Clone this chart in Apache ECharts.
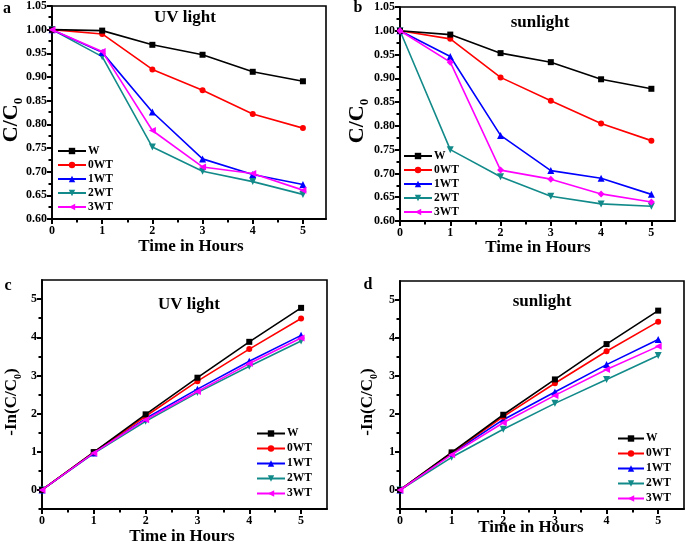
<!DOCTYPE html>
<html><head><meta charset="utf-8">
<script src="https://cdn.jsdelivr.net/npm/echarts@6/dist/echarts.min.js"></script>
<style>html,body{margin:0;padding:0;background:#fff}#c{width:685px;height:547px}</style>
</head><body><div id="c"></div>
<script>
// ---- data ----
const hours = [0, 1, 2, 3, 4, 5];
const seriesNames = ['W', '0WT', '1WT', '2WT', '3WT'];

// panel a: C/C0 under UV light
const aW   = [1.00, 0.998, 0.968, 0.947, 0.911, 0.891];
const a0WT = [1.00, 0.991, 0.916, 0.872, 0.822, 0.792];
const a1WT = [1.00, 0.952, 0.826, 0.727, 0.694, 0.673];
const a2WT = [1.00, 0.943, 0.752, 0.701, 0.679, 0.652];
const a3WT = [1.00, 0.954, 0.787, 0.710, 0.696, 0.661];

// panel b: C/C0 under sunlight
const bW   = [1.00, 0.992, 0.953, 0.934, 0.898, 0.878];
const b0WT = [1.00, 0.983, 0.902, 0.853, 0.805, 0.769];
const b1WT = [1.00, 0.946, 0.780, 0.706, 0.690, 0.656];
const b2WT = [1.00, 0.750, 0.693, 0.652, 0.636, 0.631];
const b3WT = [1.00, 0.934, 0.707, 0.688, 0.657, 0.640];

// panel c: -ln(C/C0) under UV light
const cW   = [0, 0.99, 1.98, 2.94, 3.88, 4.77];
const c0WT = [0, 0.99, 1.93, 2.85, 3.69, 4.49];
const c1WT = [0, 0.97, 1.87, 2.64, 3.37, 4.05];
const c2WT = [0, 0.96, 1.80, 2.55, 3.24, 3.90];
const c3WT = [0, 0.97, 1.84, 2.58, 3.31, 3.98];

// panel d: -ln(C/C0) under sunlight
const dW   = [0, 0.99, 1.98, 2.91, 3.84, 4.72];
const d0WT = [0, 0.98, 1.93, 2.81, 3.65, 4.43];
const d1WT = [0, 0.96, 1.85, 2.58, 3.30, 3.96];
const d2WT = [0, 0.86, 1.60, 2.28, 2.91, 3.54];
const d3WT = [0, 0.93, 1.77, 2.49, 3.17, 3.78];

// tick labels
const xTicks = [0, 1, 2, 3, 4, 5];
const xMinorTicks = [0.5, 1.5, 2.5, 3.5, 4.5];
const ratioTicks = [0.60, 0.65, 0.70, 0.75, 0.80, 0.85, 0.90, 0.95, 1.00, 1.05];
const ratioMinorTicks = [0.625, 0.675, 0.725, 0.775, 0.825, 0.875, 0.925, 0.975, 1.025];
const lnTicks = [0, 1, 2, 3, 4, 5];
const lnMinorTicks = [-0.5, 0.5, 1.5, 2.5, 3.5, 4.5];

// ---- styling ----
const FONT = '"Liberation Serif","Times New Roman",serif';
const colors = ['#000000', '#ff0000', '#0000ff', '#138a8a', '#ff00ff'];
const triDown = 'path://M0,0 L10,0 L5,9 Z';
const triLeft = 'path://M0,5 L9,0 L9,10 Z';

const panels = [
  {grid:{left:52, top:5, width:274, height:214}, xmax:5.46, ymin:0.6, ymax:1.05,
   major:ratioTicks, minor:ratioMinorTicks, fmt:v=>v.toFixed(2),
   data:[aW,a0WT,a1WT,a2WT,a3WT], syms:['rect','circle','triangle',triDown,triLeft],
   legend:{left:57, top:144, itemWidth:28}},
  {grid:{left:400, top:7, width:275, height:214}, xmax:5.47, ymin:0.6, ymax:1.05,
   major:ratioTicks, minor:ratioMinorTicks, fmt:v=>v.toFixed(2),
   data:[bW,b0WT,b1WT,b2WT,b3WT], syms:['rect','circle','triangle',triDown,'diamond'],
   legend:{left:403, top:149, itemWidth:28}},
  {grid:{left:42, top:280, width:285, height:229}, xmax:5.5, ymin:-0.5, ymax:5.5,
   major:lnTicks, minor:lnMinorTicks, fmt:v=>String(v),
   data:[cW,c0WT,c1WT,c2WT,c3WT], syms:['rect','circle','triangle',triDown,triLeft],
   legend:{left:256, top:426, itemWidth:28, gap:15}},
  {grid:{left:400, top:281, width:284, height:228}, xmax:5.5, ymin:-0.5, ymax:5.5,
   major:lnTicks, minor:lnMinorTicks, fmt:v=>String(v),
   data:[dW,d0WT,d1WT,d2WT,d3WT], syms:['rect','circle','triangle',triDown,triLeft],
   legend:{left:617, top:431, itemWidth:26, gap:15}}
];

const grids = [], xAxes = [], yAxes = [], series = [], legends = [];
const labelStyle = {fontFamily:FONT, fontWeight:'bold', fontSize:12, color:'#000'};
panels.forEach((p) => {
  grids.push(Object.assign({show:true, borderColor:'#000', borderWidth:1.6, backgroundColor:'transparent'}, p.grid));
});
// overlay grids used only for minor ticks
panels.forEach((p) => {
  grids.push(Object.assign({show:false}, p.grid));
});
// major axes
panels.forEach((p, i) => {
  xAxes.push({type:'value', gridIndex:i, min:0, max:p.xmax,
    axisLine:{show:true, onZero:false, lineStyle:{color:'#000', width:1.8}},
    axisTick:{show:true, length:5, customValues:xTicks, lineStyle:{color:'#000', width:2}},
    axisLabel:Object.assign({customValues:xTicks, margin:6}, labelStyle),
    splitLine:{show:false}});
  yAxes.push({type:'value', gridIndex:i, min:p.ymin, max:p.ymax,
    axisLine:{show:true, onZero:false, lineStyle:{color:'#000', width:1.8}},
    axisTick:{show:true, length:5, customValues:p.major, lineStyle:{color:'#000', width:2}},
    axisLabel:Object.assign({customValues:p.major, margin:5, formatter:p.fmt}, labelStyle),
    splitLine:{show:false}});
});
// minor tick axes (in overlay grids)
panels.forEach((p, i) => {
  xAxes.push({type:'value', gridIndex:i + 4, min:0, max:p.xmax,
    axisLine:{show:false, onZero:false}, splitLine:{show:false},
    axisLabel:{show:false, customValues:xMinorTicks},
    axisTick:{show:true, length:3.5, customValues:xMinorTicks, lineStyle:{color:'#000', width:2}}});
  yAxes.push({type:'value', gridIndex:i + 4, min:p.ymin, max:p.ymax,
    axisLine:{show:false, onZero:false}, splitLine:{show:false},
    axisLabel:{show:false, customValues:p.minor},
    axisTick:{show:true, length:3.5, customValues:p.minor, lineStyle:{color:'#000', width:2}}});
});
panels.forEach((p, i) => {
  p.data.forEach((arr, k) => {
    series.push({type:'line', name:seriesNames[k], xAxisIndex:i, yAxisIndex:i,
      data:hours.map((h, j) => [h, arr[j]]),
      symbol:p.syms[k], symbolSize:(k>=2?7:6), showSymbol:true,
      color:colors[k], lineStyle:{width:1.6, color:colors[k]}, itemStyle:{color:colors[k]},
      animation:false, z:10 - k + (k===4?5:0)});
  });
  legends.push({show:true, orient:'vertical', left:p.legend.left, top:p.legend.top,
    itemWidth:p.legend.itemWidth, itemHeight:8, itemGap:0, padding:0,
    data:seriesNames.map(n=>({name:n})),
    textStyle:{fontFamily:FONT, fontWeight:'bold', fontSize:11.5, color:'#000', lineHeight:p.legend.gap||14, padding:[0,0,0,-3]},
    selectedMode:false});
});

const bold = (size) => ({fontFamily:FONT, fontWeight:'bold', fontSize:size, fill:'#000'});
const texts = [];
const addText = (x, y, t, size) => texts.push({type:'text', x:x, y:y,
  style:Object.assign({text:t, align:'center', verticalAlign:'middle'}, bold(size))});
// panel letters
addText(7, 9, 'a', 16); addText(358, 8, 'b', 16); addText(8, 286, 'c', 16); addText(368, 285, 'd', 16);
// titles
addText(185, 18, 'UV light', 17); addText(540, 23, 'sunlight', 17);
addText(189, 305, 'UV light', 17); addText(542, 302, 'sunlight', 17);
// x axis names
addText(191, 247, 'Time in Hours', 17); addText(538, 248, 'Time in Hours', 17);
addText(182, 537, 'Time in Hours', 17); addText(531, 528, 'Time in Hours', 17);
// y axis names (rotated, with subscript)
const yName = (x, y, pre, post, size) => texts.push({type:'text', x:x, y:y, rotation:Math.PI/2,
  style:{text:'{m|' + pre + '}{s|0}' + (post ? '{m|' + post + '}' : ''), align:'center', verticalAlign:'middle',
    rich:{m:Object.assign({}, bold(size), {verticalAlign:'bottom'}),
          s:Object.assign({}, bold(Math.round(size*0.6)), {verticalAlign:'bottom', padding:[0,0,-3,0]})}}});
yName(11, 120, 'C/C', '', 22);
yName(357, 121, 'C/C', '', 22);
yName(12, 402, '-In(C/C', ')', 17);
yName(368, 402, '-In(C/C', ')', 17);

const chart = echarts.init(document.getElementById('c'), null, {renderer:'canvas'});
chart.setOption({
  animation:false,
  backgroundColor:'#fff',
  grid:grids, xAxis:xAxes, yAxis:yAxes, series:series, legend:legends,
  graphic:texts
});
</script></body></html>
